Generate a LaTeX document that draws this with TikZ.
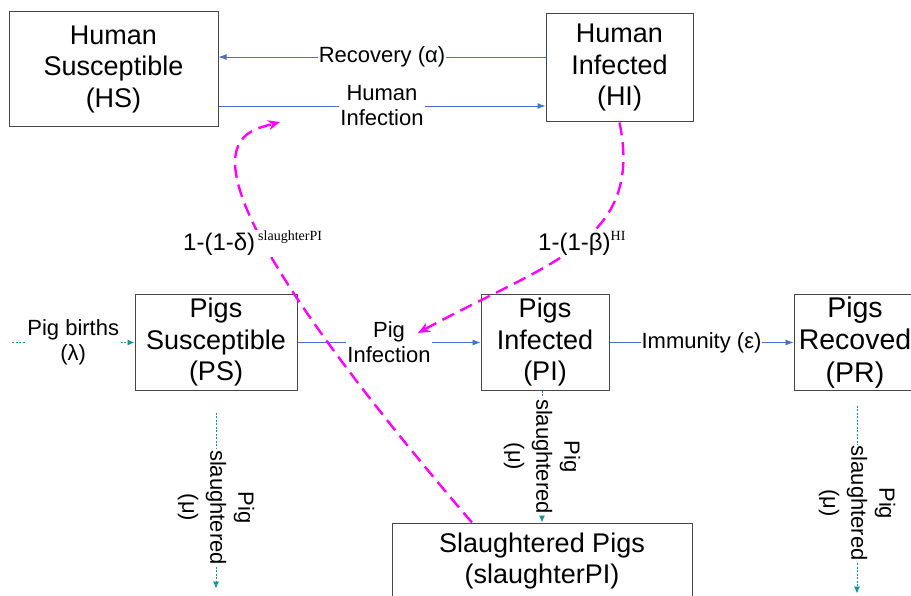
\documentclass[tikz,border=0pt]{standalone}
\usepackage{fontspec}
\setmainfont{Liberation Sans}
\newfontfamily\supfont{Liberation Serif}
\usetikzlibrary{arrows.meta,calc}

\definecolor{flowblue}{RGB}{68,114,196}
\definecolor{flowteal}{RGB}{20,150,150}
\definecolor{boxgray}{RGB}{70,70,70}
\definecolor{riskpink}{RGB}{255,0,255}

\begin{document}
\begin{tikzpicture}[x=1pt, y=-1pt,
  box/.style={draw=boxgray, line width=1pt, align=center, inner sep=0pt,
    font=\fontsize{27}{31.5}\selectfont},
  flow/.style={draw=flowblue, line width=0.9pt, -{Latex[length=8pt,width=6pt]}},
  pigflow/.style={draw=flowteal, line width=0.9pt, dash pattern=on 2pt off 1.5pt,
    -{Latex[length=7pt,width=6pt]}},
  risk/.style={draw=riskpink, line width=2.4pt, dash pattern=on 13pt off 7pt,
    -{Stealth[length=12pt,width=10pt]}},
  lbl/.style={fill=white, inner sep=1pt, align=center, font=\fontsize{22}{25}\selectfont},
  vlbl/.style={fill=white, inner sep=1pt, align=center, rotate=-90,
    font=\fontsize{22}{28}\selectfont},
  risklbl/.style={fill=white, inner sep=1pt, font=\fontsize{24}{28}\selectfont}]

  \useasboundingbox (0,0) rectangle (911,596);

  % --- compartments ---
  \node[box, minimum width=209pt, minimum height=115pt] (hs) at (113.5,69.5) {Human\\Susceptible\\(HS)};
  \node[box, minimum width=147pt, minimum height=108pt] (hi) at (619.5,68) {Human\\Infected\\(HI)};
  \node[box, minimum width=162pt, minimum height=95pt] (ps) at (216,342.5) {Pigs\\Susceptible\\(PS)};
  \node[box, minimum width=128pt, minimum height=95pt] (pi) at (545,342.5) {Pigs\\Infected\\(PI)};
  \node[box, minimum width=122pt, minimum height=95pt, font=\fontsize{28.5}{32.5}\selectfont] (pr) at (855,342.5) {Pigs\\Recoved\\(PR)};
  \node[box, minimum width=300pt, minimum height=76pt, font=\fontsize{27}{31}\selectfont] (slp) at (542,561) {Slaughtered Pigs\\(slaughterPI)};

  % --- human flows ---
  \draw[flow] ([yshift=11pt]hi.west) -- node[lbl] {Recovery (α)} ([yshift=11pt]hi.west -| hs.east);
  \draw[flow] ([yshift=-38pt]hi.west -| hs.east) -- node[lbl] {Human\\Infection} ([yshift=-38pt]hi.west);

  % --- pig flows ---
  \coordinate (birth) at (12,342.5);
  \draw[pigflow] (birth) -- node[lbl] {Pig births\\(λ)} (ps.west);
  \draw[flow] (ps.east) -- node[lbl] {Pig\\Infection} (pi.west);
  \draw[flow] (pi.east) -- node[lbl] {Immunity (ε)} (pr.west);

  % --- slaughter ---
  \coordinate (psout) at ($(ps.south)+(0,22)$);
  \coordinate (psend) at ($(ps.south)+(0,198)$);
  \coordinate (prout) at ($(pr.south)+(2,15)$);
  \coordinate (prend) at ($(pr.south)+(2,203)$);
  \draw[pigflow] (psout) -- node[vlbl, pos=0.54] {Pig\\slaughtered\\(μ)} (psend);
  \draw[pigflow] (pi.south -| slp.north) -- node[vlbl] {Pig\\slaughtered\\(μ)} (slp.north);
  \draw[pigflow] (prout) -- node[vlbl, pos=0.52] {Pig\\slaughtered\\(μ)} (prend);

  % --- transmission risks ---
  \coordinate (slptop) at ($(slp.north west)!0.267!(slp.north east)$);
  \coordinate (hstip) at (280,122);
  \coordinate (pitip) at (418,333);
  \draw[risk] (slptop) .. controls (147,143) and (240,133) .. (hstip);
  \draw[risk] (hi.south) .. controls (644,242) and (550,261) .. (pitip);
  \node[risklbl, anchor=base west] (deltalbl) at (182,251)
    {1-(1-δ)\hspace{3pt}\raisebox{10pt}{\fontsize{14}{14}\supfont slaughterPI}};
  \node[risklbl, anchor=base west] (betalbl) at (537,251)
    {1-(1-β)\raisebox{10pt}{\fontsize{14}{14}\supfont HI}};
\end{tikzpicture}
\end{document}
